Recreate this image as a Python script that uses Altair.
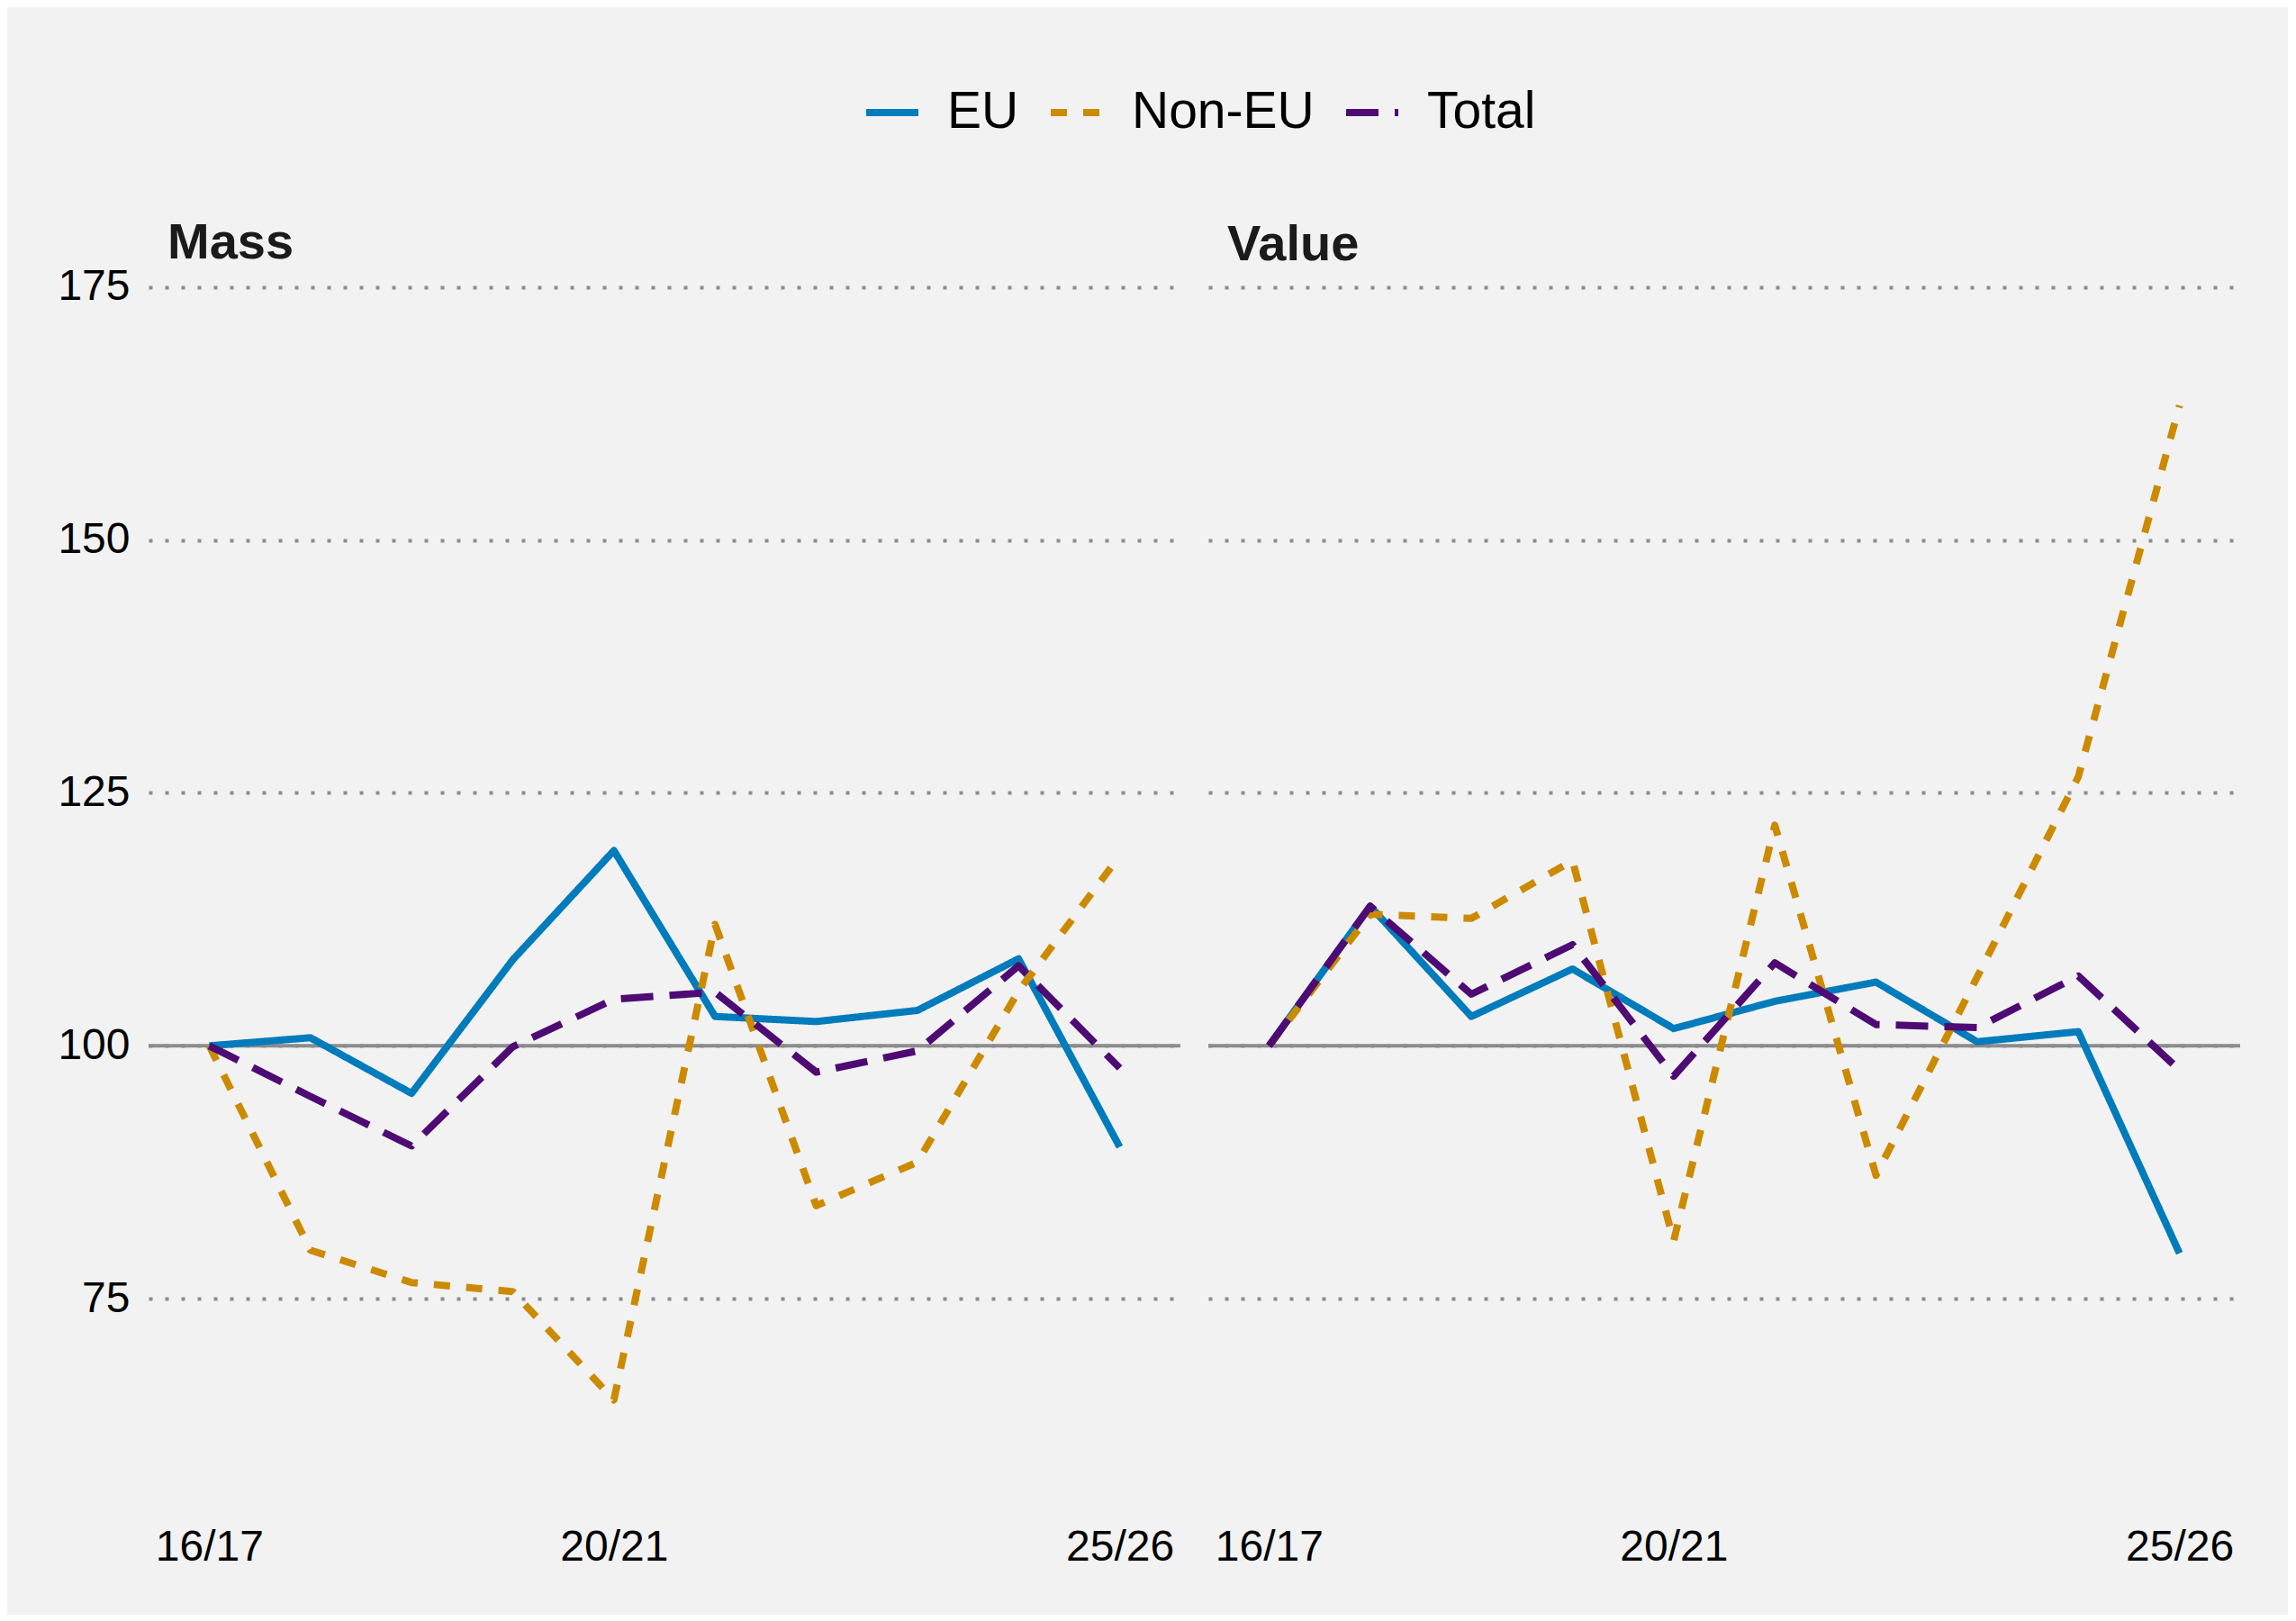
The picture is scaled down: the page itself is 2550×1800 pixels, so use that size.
import altair as alt
import pandas as pd

FONT = "Liberation Sans"

# Financial years on the x axis, and the series drawn in each panel
years = ["16/17", "17/18", "18/19", "19/20", "20/21", "21/22", "22/23", "23/24", "24/25", "25/26"]
series = ["EU", "Non-EU", "Total"]
tick_years = ["16/17", "20/21", "25/26"]
y_ticks = [75, 100, 125, 150, 175]
baseline = 100

# Index values (16/17 = 100)
mass_eu = [100, 100.8, 95.3, 108.5, 119.3, 102.9, 102.4, 103.5, 108.6, 90.0]
mass_non_eu = [100, 79.8, 76.6, 75.7, 65.0, 112.0, 84.2, 88.5, 105.4, 118.8]
mass_total = [100, 95.0, 90.1, 99.9, 104.6, 105.3, 97.4, 99.5, 107.9, 97.8]

value_eu = [100, 113.8, 102.9, 107.6, 101.7, 104.4, 106.3, 100.4, 101.4, 79.5]
value_non_eu = [100, 113.0, 112.6, 118.3, 80.7, 121.8, 87.2, 106.8, 126.6, 163.3]
value_total = [100, 113.8, 105.1, 110.0, 97.0, 108.2, 102.1, 101.8, 106.9, 97.6]

colors = {"EU": "#007BBB", "Non-EU": "#CC8A00", "Total": "#4E0B74"}
dashes = {"EU": [1, 0], "Non-EU": [18, 18], "Total": [36, 18]}


def create_frame(values_by_series):
    """Returns a long DataFrame (Year, Series, Index) built from one list per series."""

    rows = []
    for name, values in values_by_series.items():
        for year, value in zip(years, values):
            rows.append({"Year": year, "Series": name, "Index": value})
    return pd.DataFrame(rows)


def configure_legend():
    """Returns the shared (colour + dash) legend, placed by hand above both panels."""

    return alt.Legend(
        title=None,
        orient="none",
        legendX=793,
        legendY=-210,
        direction="horizontal",
        labelFont=FONT,
        labelFontSize=57,
        labelColor="#000000",
        labelLimit=500,
        labelOffset=28,
        columnPadding=19,
        symbolType="stroke",
        symbolSize=3364,
        symbolStrokeWidth=8,
        padding=0,
    )


def create_panel(frame, title, show_labels, title_dy, width=1146, height=1376):
    """Instantiates one panel: the three index lines over a solid 100 baseline."""

    x = alt.X(
        "Year:O",
        sort=years,
        scale=alt.Scale(type="point", padding=0.6),
        axis=alt.Axis(
            values=tick_years,
            labelAngle=0,
            labelFont=FONT,
            labelFontSize=48,
            labelColor="#000000",
            labelPadding=16,
            domain=False,
            ticks=False,
            grid=False,
            title=None,
        ),
    )
    y = alt.Y(
        "Index:Q",
        scale=alt.Scale(domain=[54, 176.5], nice=False, zero=False),
        axis=alt.Axis(
            values=y_ticks,
            labels=show_labels,
            labelFont=FONT,
            labelFontSize=48,
            labelColor="#000000",
            labelPadding=21 if show_labels else 0,
            domain=False,
            ticks=False,
            grid=True,
            gridColor="#8c8c8c",
            gridWidth=4,
            gridDash=[4, 14],
            title=None,
        ),
    )

    rule = (
        alt.Chart(pd.DataFrame({"Index": [baseline]}))
        .mark_rule(color="#8c8c8c", strokeWidth=4)
        .encode(y=alt.Y("Index:Q"))
    )
    lines = (
        alt.Chart(frame)
        .mark_line(strokeWidth=8, strokeJoin="round")
        .encode(
            x=x,
            y=y,
            color=alt.Color(
                "Series:N",
                scale=alt.Scale(domain=series, range=[colors[s] for s in series]),
                legend=configure_legend(),
            ),
            strokeDash=alt.StrokeDash(
                "Series:N",
                scale=alt.Scale(domain=series, range=[dashes[s] for s in series]),
                legend=configure_legend(),
            ),
        )
    )

    return alt.layer(rule, lines).properties(
        width=width,
        height=height,
        title=alt.TitleParams(
            text=title,
            anchor="start",
            frame="group",
            dx=21,
            dy=title_dy,
            offset=10,
            font=FONT,
            fontSize=56,
            fontWeight="bold",
            color="#1a1a1a",
        ),
    )


mass = create_panel(
    create_frame({"EU": mass_eu, "Non-EU": mass_non_eu, "Total": mass_total}), "Mass", True, 14
)
value = create_panel(
    create_frame({"EU": value_eu, "Non-EU": value_non_eu, "Total": value_total}), "Value", False, 9
)

chart = (
    alt.hconcat(mass, value, spacing=27)
    .configure(background="#f2f2f2", padding={"left": 55, "top": 84, "right": 51, "bottom": 51})
    .configure_view(stroke=None)
)

chart.save("out.html", embed_options={"renderer": "svg", "actions": False})
